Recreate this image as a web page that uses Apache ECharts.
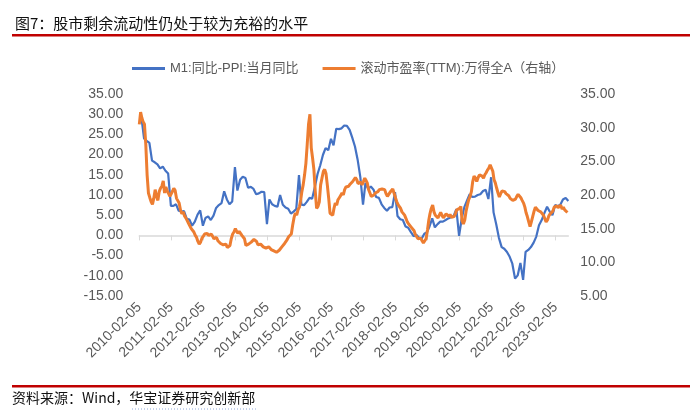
<!DOCTYPE html>
<html>
<head>
<meta charset="utf-8">
<script src="https://cdn.jsdelivr.net/npm/echarts@6/dist/echarts.min.js"></script>
<style>
html,body{margin:0;padding:0;background:#fff;}
#chart{width:700px;height:413px;}
</style>
</head>
<body>
<div id="chart"></div>
<script>
// ---------------- DATA ----------------
const titleText = '图7：股市剩余流动性仍处于较为充裕的水平';
const sourceLead = '资料来源：Wind，';
const sourceOrg = '华宝证券研究创新部';
const seriesNames = ['M1:同比-PPI:当月同比', '滚动市盈率(TTM):万得全A（右轴）'];
const xTickLabels = ['2010-02-05','2011-02-05','2012-02-05','2013-02-05','2014-02-05','2015-02-05','2016-02-05',
  '2017-02-05','2018-02-05','2019-02-05','2020-02-05','2021-02-05','2022-02-05','2023-02-05'];
const leftTicks = [-15, 35, 5];   // min, max, step
const rightTicks = [5, 35, 5];

// M1 yoy - PPI yoy, monthly, 2010-02 ... 2023-06
const m1Start = [2010, 2];
const m1MinusPPI = [
  29.4, 24.0, 23.4, 22.9, 18.5, 18.1, 17.6, 16.6, 17.0, 16.0, 15.3,
  7.3, 7.3, 7.7, 6.1, 5.9, 6.0, 4.1, 3.9, 2.4, 3.4, 5.1, 6.2,
  2.4, 4.3, 4.7, 3.8, 4.9, 6.8, 7.5, 8.0, 10.9, 8.9, 7.7, 8.4,
  16.9, 11.1, 13.8, 14.5, 14.2, 11.8, 12.0, 11.5, 10.2, 10.4, 10.8, 10.7,
  2.8, 8.9, 7.7, 7.3, 7.1, 10.0, 7.6, 6.9, 6.6, 5.4, 5.9, 6.5,
  14.9, 7.6, 7.5, 8.3, 9.3, 9.1, 12.0, 15.2, 17.3, 19.9, 21.6, 21.1,
  23.9, 22.3, 26.4, 26.3, 26.5, 27.2, 27.1, 26.1, 24.2, 22.0, 18.8, 14.5,
  7.6, 13.0, 11.5, 12.1, 11.3, 9.5, 9.3, 7.7, 6.8, 6.1, 6.9, 7.0,
  10.7, 4.8, 4.0, 3.8, 2.2, 1.9, 0.8, -0.2, 0.2, -0.6, -0.8, 0.4,
  0.8, 2.2, 4.2, 2.0, 2.8, 3.4, 3.4, 3.8, 4.2, 4.5, 4.8, 6.5,
  -0.1, 4.0, 7.0, 8.6, 10.2, 9.5, 9.6, 10.0, 10.2, 11.0, 11.3, 9.0,
  14.4, 5.7, 2.7, -0.6, -2.9, -3.3, -4.1, -5.3, -7.0, -10.7, -9.9, -6.8,
  -11.0, -4.1, -3.6, -2.9, -1.8, -0.3, 2.5, 3.8, 5.5, 7.1, 5.9, 5.0,
  7.5, 7.2, 7.6, 8.9, 9.3, 8.5
];

// Wind All-A PE (TTM), two readings per month (5th & 20th), 2010-02 ... 2023-06
const peStart = [2010, 2];
const peDays = [5, 20];
const pe2010 = [30.5, 32.3, 31.5, 30.9, 30.5, 27.5, 23.0, 20.3, 19.6, 19.0, 18.6, 19.5, 20.8, 19.8, 19.2, 20.5, 21.0, 21.3, 22.1, 20.3, 21.2, 20.6, 20.2, 19.8];
const pe2011 = [20.0, 20.6, 21.0, 20.7, 19.5, 19.6, 18.8, 17.8, 17.2, 17.5, 16.9, 16.6, 16.2, 15.8, 15.4, 15.0, 14.8, 14.5, 14.0, 13.7, 13.1, 12.7, 13.0, 13.6];
const pe2012 = [13.9, 14.2, 14.4, 14.3, 14.0, 13.8, 14.2, 13.9, 13.5, 13.4, 13.7, 13.2, 13.0, 12.8, 13.0, 12.6, 12.5, 12.7, 12.2, 12.0, 12.5, 13.5, 14.2, 14.5];
const pe2013 = [15.0, 14.6, 14.3, 14.6, 14.3, 14.0, 13.8, 13.5, 12.5, 12.3, 12.7, 12.9, 13.0, 13.2, 13.4, 13.3, 13.1, 12.6, 12.4, 12.7, 12.5, 12.3, 12.4, 12.1];
const pe2014 = [12.0, 12.3, 12.1, 11.9, 12.0, 11.7, 11.8, 11.5, 11.6, 11.8, 12.0, 12.3, 12.5, 12.8, 13.1, 13.4, 13.8, 13.6, 14.2, 15.5, 16.6, 17.3, 17.0, 17.8];
const pe2015 = [18.2, 19.3, 20.5, 21.5, 23.0, 24.7, 27.5, 30.5, 32.0, 27.0, 25.5, 23.8, 20.5, 18.0, 18.3, 19.0, 21.5, 22.5, 23.5, 23.8, 23.2, 21.5, 19.5, 17.3];
const pe2016 = [17.5, 17.0, 18.0, 18.8, 18.5, 19.3, 19.6, 19.9, 20.3, 20.0, 20.8, 21.2, 21.0, 21.3, 21.6, 21.4, 22.0, 22.2, 22.6, 22.3, 21.7, 21.6, 21.9, 21.5];
const pe2017 = [22.0, 22.5, 22.2, 21.8, 20.8, 20.3, 19.8, 19.6, 20.0, 20.3, 20.1, 20.5, 20.8, 20.6, 20.9, 21.1, 20.8, 20.2, 19.8, 20.0, 20.4, 20.6, 20.9, 21.0];
const pe2018 = [19.6, 19.0, 18.6, 18.3, 18.0, 17.5, 17.3, 17.0, 16.5, 16.0, 15.7, 15.6, 15.2, 15.0, 14.7, 14.1, 14.0, 13.5, 13.3, 13.6, 13.2, 12.9, 12.8, 13.5];
const pe2019 = [14.8, 16.3, 17.2, 18.0, 18.5, 17.5, 17.0, 16.9, 16.6, 17.0, 17.4, 17.0, 16.6, 16.9, 17.2, 17.0, 16.8, 17.1, 16.7, 16.6, 16.8, 17.2, 17.8, 17.6];
const pe2020 = [18.0, 18.3, 16.2, 15.7, 16.3, 17.6, 18.5, 19.3, 19.8, 20.5, 22.0, 22.8, 22.5, 22.0, 22.6, 23.0, 23.2, 22.8, 22.5, 23.0, 23.3, 23.7, 24.0, 24.5];
const pe2021 = [24.3, 23.5, 22.3, 21.8, 21.0, 20.3, 19.7, 20.2, 20.6, 20.8, 20.5, 20.2, 20.4, 19.9, 19.5, 19.3, 19.2, 19.0, 19.4, 19.8, 20.1, 19.9, 19.6, 19.2];
const pe2022 = [18.8, 18.2, 17.4, 16.8, 16.0, 15.3, 16.0, 16.8, 17.6, 18.2, 18.0, 17.7, 17.8, 17.5, 17.3, 17.0, 16.8, 16.0, 16.3, 16.9, 17.2, 17.0, 17.6, 18.2];
const pe2023 = [18.0, 18.4, 18.1, 18.3, 18.5, 17.9, 18.2, 17.8, 17.6, 17.4];

// ---------------- BUILD ----------------
const peValues = [].concat(pe2010, pe2011, pe2012, pe2013, pe2014, pe2015, pe2016,
  pe2017, pe2018, pe2019, pe2020, pe2021, pe2022, pe2023);

// Axis position = years elapsed since 2010-02-05 (each year runs Feb 5 -> Feb 5)
function axisPos(t) {
  const d = new Date(t);
  let y = d.getUTCFullYear();
  let s = Date.UTC(y, 1, 5);
  if (t < s) { y -= 1; s = Date.UTC(y, 1, 5); }
  const e = Date.UTC(y + 1, 1, 5);
  return (y - 2010) + (t - s) / (e - s);
}
const m1Data = m1MinusPPI.map((v, i) => {
  const t = Date.UTC(m1Start[0], m1Start[1] - 1 + i + 1, 0); // month end
  return [axisPos(t), v];
});
const peData = peValues.map((v, i) => {
  const mo = Math.floor(i / 2);
  const t = Date.UTC(peStart[0], peStart[1] - 1 + mo, peDays[i % 2]);
  return [axisPos(t), v];
});
const xMax = Math.max(m1Data[m1Data.length - 1][0], peData[peData.length - 1][0]);

const FONT = '"Liberation Sans", Arial, "Noto Sans CJK SC", sans-serif';
const CJK = '"Noto Sans CJK SC", sans-serif';
const GREY = '#595959';

const chart = echarts.init(document.getElementById('chart'), null, {renderer: 'canvas'});
const option = {
  backgroundColor: '#ffffff',
  animation: false,
  title: {
    text: titleText, left: 10, top: 11,
    textStyle: {fontSize: 15, fontWeight: 'normal', color: '#111', fontFamily: CJK}
  },
  legend: {
    left: 127, top: 57, itemWidth: 33, itemHeight: 3, icon: 'rect', itemGap: 24,
    textStyle: {fontSize: 13, color: GREY, fontFamily: FONT},
    data: seriesNames
  },
  grid: {left: 139.3, right: 131.7, top: 94, bottom: 117, containLabel: false, outerBoundsMode: 'none'},
  xAxis: [
    {
      type: 'value', min: 0, max: xMax, interval: 1, position: 'bottom',
      axisLine: {show: true, onZero: true, onZeroAxisIndex: 0, lineStyle: {color: '#D9D9D9', width: 1.5}},
      axisTick: {show: true, length: 5, customValues: xTickLabels.map((_, i) => i), lineStyle: {color: '#D9D9D9', width: 1}},
      axisLabel: {show: false},
      splitLine: {show: false}
    },
    {
      type: 'value', min: 0, max: xMax, interval: 1, position: 'bottom',
      axisLine: {show: false, onZero: false},
      axisTick: {show: false},
      splitLine: {show: false},
      axisLabel: {
        show: true, rotate: 45, margin: 9, fontSize: 14, color: GREY, fontFamily: FONT,
        customValues: xTickLabels.map((_, i) => i),
        formatter: v => (Math.abs(v - Math.round(v)) < 1e-6 && xTickLabels[Math.round(v)]) ? xTickLabels[Math.round(v)] : ''
      }
    }
  ],
  yAxis: [
    {
      type: 'value', position: 'left', min: leftTicks[0], max: leftTicks[1], interval: leftTicks[2],
      axisLine: {show: false}, axisTick: {show: false}, splitLine: {show: false},
      axisLabel: {fontSize: 14, color: GREY, fontFamily: FONT, margin: 16, formatter: v => v.toFixed(2)}
    },
    {
      type: 'value', position: 'right', min: rightTicks[0], max: rightTicks[1], interval: rightTicks[2],
      axisLine: {show: false}, axisTick: {show: false}, splitLine: {show: false},
      axisLabel: {fontSize: 14, color: GREY, fontFamily: FONT, margin: 12, formatter: v => v.toFixed(2)}
    }
  ],
  series: [
    {
      name: seriesNames[0], type: 'line', xAxisIndex: 0, yAxisIndex: 0,
      data: m1Data, symbol: 'none', showSymbol: false,
      lineStyle: {color: '#4472C4', width: 2.2}, itemStyle: {color: '#4472C4'}
    },
    {
      name: seriesNames[1], type: 'line', xAxisIndex: 0, yAxisIndex: 1,
      data: peData, symbol: 'none', showSymbol: false,
      lineStyle: {color: '#ED7D31', width: 3}, itemStyle: {color: '#ED7D31'}
    }
  ],
  graphic: [
    {type: 'rect', left: 12, top: 34, shape: {width: 678, height: 2.5}, style: {fill: '#C00000'}, silent: true},
    {type: 'rect', left: 12, top: 385, shape: {width: 678, height: 2.5}, style: {fill: '#C00000'}, silent: true},
    {
      type: 'text', left: 12, top: 391, silent: true,
      style: {
        text: '{a|' + sourceLead + '}{b|' + sourceOrg + '}',
        rich: {
          a: {fontSize: 14, fill: '#111', fontFamily: CJK},
          b: {fontSize: 14, fill: '#111', fontFamily: CJK}
        }
      }
    },
    {type: 'line', silent: true, shape: {x1: 132, y1: 409, x2: 258, y2: 409},
     style: {stroke: '#8FAADC', lineWidth: 1, lineDash: [1, 2]}}
  ]
};
chart.setOption(option);
</script>
</body>
</html>
